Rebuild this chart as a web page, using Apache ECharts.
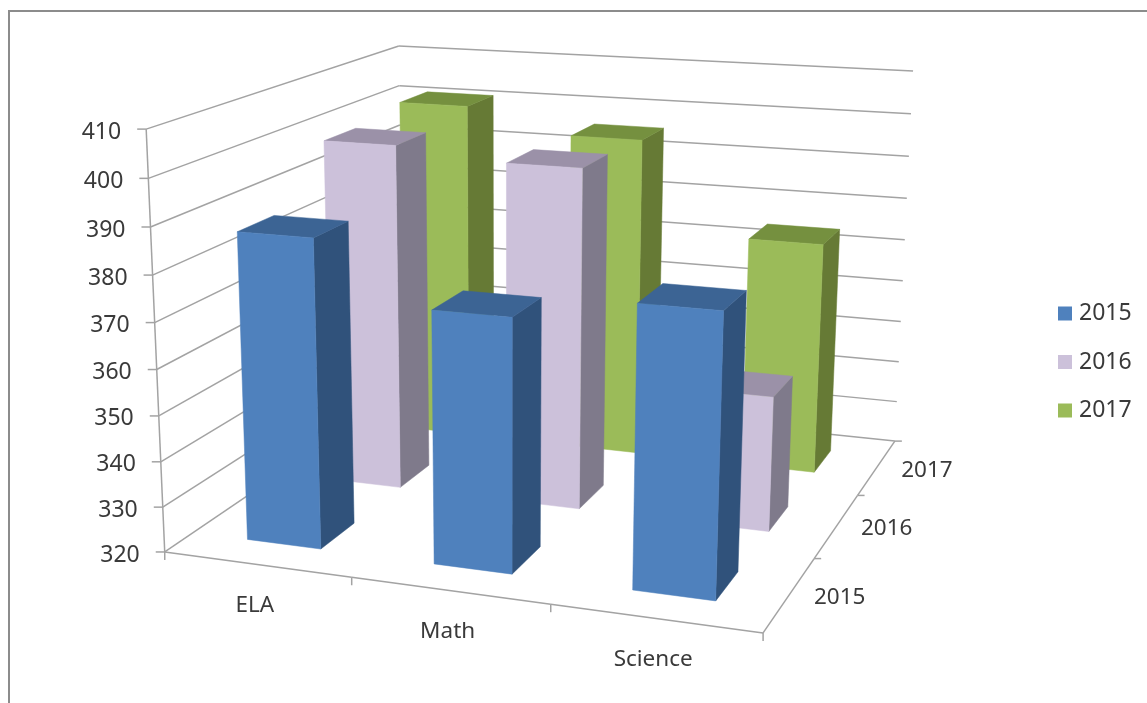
<!DOCTYPE html>
<html><head><meta charset="utf-8">
<style>html,body{margin:0;padding:0;background:#fff}#c{width:1147px;height:703px}</style>
<script src="https://cdn.jsdelivr.net/npm/echarts@6/dist/echarts.min.js"></script>
</head><body><div id="c"></div>
<script>
const categories = ['ELA', 'Math', 'Science'];
const years = ['2015', '2016', '2017'];
const values2015 = [387.3, 374.4, 379.5];
const values2016 = [399, 396.7, 350.2];
const values2017 = [401, 395.5, 374.2];
const valueTicks = [320, 330, 340, 350, 360, 370, 380, 390, 400, 410];

const FONT = '"Noto Sans", sans-serif';
const LINE = '#a3a3a3';
const TEXT = '#3a3a3a';
const BAR_FRACTION = 0.4;
const palette = {
  2015: { front: '#4f81bd', top: '#3c6494', side: '#30527b' },
  2016: { front: '#ccc1da', top: '#9b91a8', side: '#7f7a8b' },
  2017: { front: '#9bbb59', top: '#75903f', side: '#667a35' }
};

// Where the box of the 3D chart lands on the page: u along categories, v into depth, w up.
const anchors = [
  [0, 0, 0, 165, 552], [1, 0, 0, 763, 633], [1, 1, 0, 895, 441], [0, 1, 0, 403, 390],
  [0, 0, 1, 146, 129], [0, 1, 1, 399, 46], [1, 1, 1, 913, 71]
];
function solveCamera() {
  const rows = [], rhs = [];
  anchors.forEach(([u, v, w, x0, y0]) => {
    const x = x0 / 1000, y = y0 / 1000;
    rows.push([u, v, w, 1, 0, 0, 0, 0, -x * u, -x * v, -x * w]); rhs.push(x);
    rows.push([0, 0, 0, 0, u, v, w, 1, -y * u, -y * v, -y * w]); rhs.push(y);
  });
  const n = 11, M = [];
  for (let i = 0; i < n; i++) {
    M.push(new Array(n + 1).fill(0));
    for (let j = 0; j < n; j++) rows.forEach(r => { M[i][j] += r[i] * r[j]; });
    rows.forEach((r, k) => { M[i][n] += r[i] * rhs[k]; });
  }
  for (let i = 0; i < n; i++) {
    let p = i;
    for (let k = i + 1; k < n; k++) if (Math.abs(M[k][i]) > Math.abs(M[p][i])) p = k;
    [M[i], M[p]] = [M[p], M[i]];
    for (let k = 0; k < n; k++) if (k !== i) {
      const f = M[k][i] / M[i][i];
      for (let j = i; j <= n; j++) M[k][j] -= f * M[i][j];
    }
  }
  return M.map((r, i) => r[n] / r[i]);
}
const cam = solveCamera();
function project(u, v, w) {
  const d = cam[8] * u + cam[9] * v + cam[10] * w + 1;
  return [1000 * (cam[0] * u + cam[1] * v + cam[2] * w + cam[3]) / d,
          1000 * (cam[4] * u + cam[5] * v + cam[6] * w + cam[7]) / d];
}
function heightOf(params, api, val) {
  const cs = params.coordSys;
  return (cs.y + cs.height - api.coord([0, val])[1]) / cs.height;
}
function seg(a, b, width) {
  return { type: 'line', shape: { x1: a[0], y1: a[1], x2: b[0], y2: b[1] },
    style: { stroke: LINE, lineWidth: width || 1.5 } };
}
function label(p, text, align, size) {
  return { type: 'text', x: p[0], y: p[1],
    style: { text, fill: TEXT, font: (size || 22.5) + 'px ' + FONT, textAlign: align || 'center', textVerticalAlign: 'middle' } };
}

function renderValueTick(params, api) {
  const val = api.value(1), w = heightOf(params, api, val);
  const a = project(0, 0, w), b = project(0, 1, w), c = project(1, 1, w);
  return { type: 'group', children: [
    seg(a, b), seg(b, c), seg(a, [a[0] - 9, a[1]]),
    label([a[0] - 25, a[1] + 3], String(val), 'right', 23)
  ] };
}
function renderCategoryTick(params, api) {
  const i = api.value(0), n = categories.length;
  const u1 = (i + 1) / n, p1 = project(u1, 0, 0), p0 = project(i / n, 0, 0);
  const mid = project((i + 0.5) / n, 0, 0);
  return { type: 'group', children: [
    seg(p0, p1), seg(p1, [p1[0], p1[1] + 8]),
    i === 0 ? seg(p0, [p0[0], p0[1] + 8]) : seg(p0, p0),
    i === 0 ? seg(p0, project(0, 0, 1)) : seg(p0, p0),
    label([mid[0] - 2, mid[1] + 41], categories[i], 'center')
  ] };
}
function renderDepthTick(params, api) {
  const i = api.value(0), n = years.length;
  const p1 = project(1, (i + 1) / n, 0), p0 = project(1, i / n, 0);
  const mid = project(1, (i + 0.5) / n, 0);
  return { type: 'group', children: [
    seg(p0, p1), seg(p1, [p1[0] + 7, p1[1]]),
    label([mid[0] + 50, mid[1] + 3], years[i], 'center')
  ] };
}
function barRenderer(yearIndex, colors) {
  return function (params, api) {
    const cs = params.coordSys;
    const cat = api.value(0), val = api.value(1);
    const cx = (api.coord([cat, val])[0] - cs.x) / cs.width;
    const bandU = api.size([1, 0])[0] / cs.width;
    const hu = bandU * BAR_FRACTION / 2, hv = BAR_FRACTION / years.length / 2;
    const cv = (yearIndex + 0.5) / years.length;
    const w = heightOf(params, api, val);
    const u0 = cx - hu, u1 = cx + hu, v0 = cv - hv, v1 = cv + hv;
    const poly = (pts, fill) => ({ type: 'polygon',
      shape: { points: pts.map(p => project(p[0], p[1], p[2])) },
      style: { fill, stroke: fill, lineWidth: 0.5 } });
    return { type: 'group', children: [
      poly([[u1, v0, 0], [u1, v1, 0], [u1, v1, w], [u1, v0, w]], colors.side),
      poly([[u0, v0, w], [u1, v0, w], [u1, v1, w], [u0, v1, w]], colors.top),
      poly([[u0, v0, 0], [u1, v0, 0], [u1, v0, w], [u0, v0, w]], colors.front)
    ] };
  };
}
const barSeries = (name, idx, vals) => ({
  name, type: 'custom', coordinateSystem: 'cartesian2d', z: 5 + (2 - idx),
  renderItem: barRenderer(idx, palette[name]),
  itemStyle: { color: palette[name].front },
  data: vals.map((v, i) => [i, v]), silent: true, clip: false
});

const chart = echarts.init(document.getElementById('c'), null, { renderer: 'canvas' });
chart.setOption({
  animation: false,
  backgroundColor: '#fff',
  graphic: [{ type: 'polyline', silent: true, z: 0,
    shape: { points: [[9, 703], [9, 11], [1147, 11]] },
    style: { stroke: '#8c8c8c', lineWidth: 2, fill: null } }],
  legend: {
    data: years, orient: 'vertical', left: 1053, top: 297,
    icon: 'rect', itemWidth: 14, itemHeight: 14, itemGap: 25.5,
    selectedMode: false,
    textStyle: { fontFamily: FONT, fontSize: 23, color: TEXT, padding: [0, 0, 0, 2] }
  },
  grid: { left: 100, right: 100, top: 100, bottom: 100 },
  xAxis: { type: 'category', data: categories, show: false },
  yAxis: { type: 'value', min: 320, max: 410, interval: 10, show: false },
  tooltip: { show: false },
  series: [
    { type: 'custom', coordinateSystem: 'cartesian2d', z: 1, silent: true, clip: false,
      renderItem: renderValueTick, data: valueTicks.map(v => [0, v]) },
    { type: 'custom', coordinateSystem: 'cartesian2d', z: 2, silent: true, clip: false,
      renderItem: renderCategoryTick, data: categories.map((c, i) => [i, valueTicks[0]]) },
    { type: 'custom', coordinateSystem: 'cartesian2d', z: 2, silent: true, clip: false,
      renderItem: renderDepthTick, data: years.map((c, i) => [i, valueTicks[0]]) },
    barSeries('2017', 2, values2017),
    barSeries('2016', 1, values2016),
    barSeries('2015', 0, values2015)
  ]
});
</script></body></html>
